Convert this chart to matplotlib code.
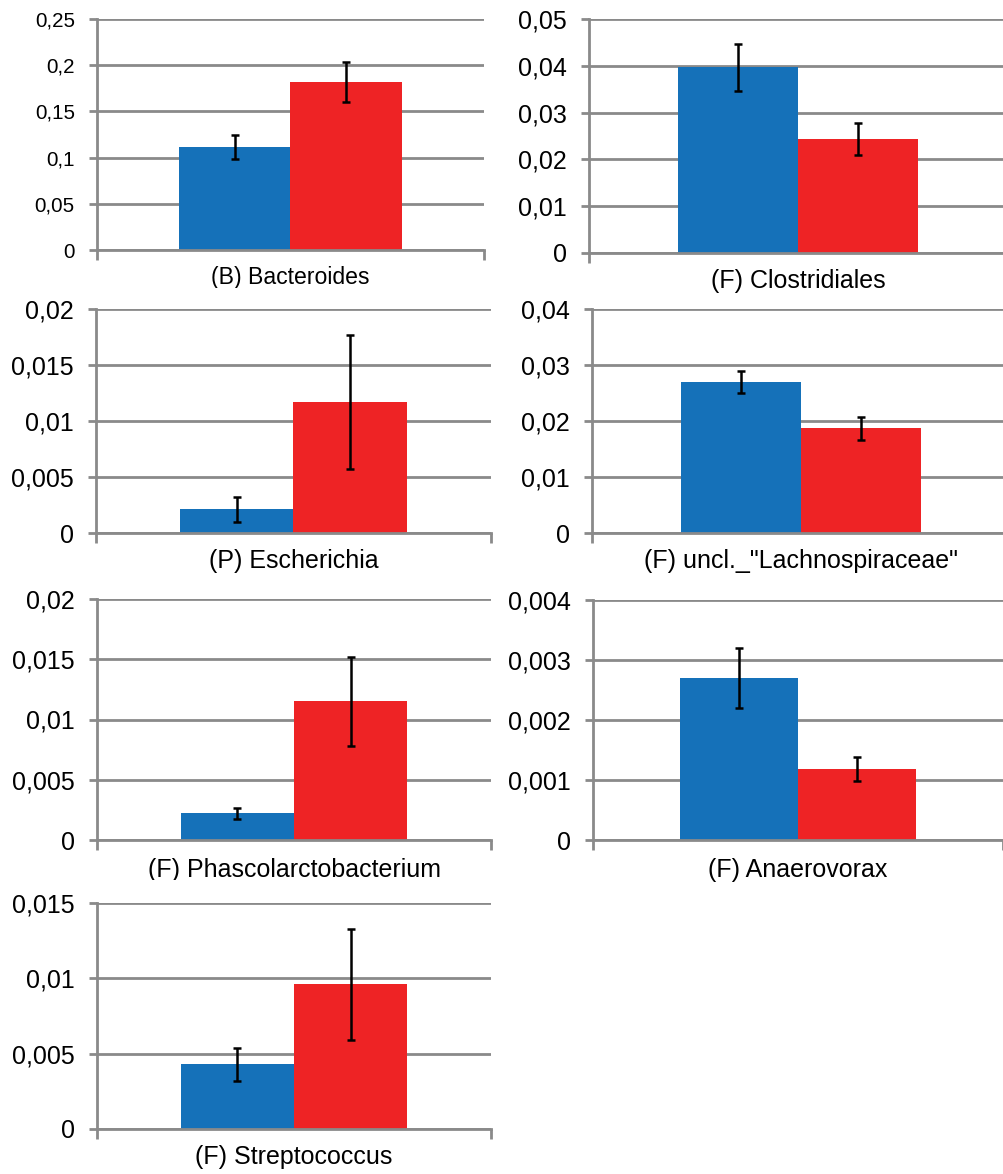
import matplotlib
matplotlib.use("Agg")
import matplotlib.pyplot as plt
from matplotlib.ticker import FuncFormatter, MultipleLocator
from matplotlib.transforms import Bbox, TransformedBbox

plt.rcParams['font.family'] = ['Liberation Sans', 'DejaVu Sans']

# ---- data ----
taxa = ['(B) Bacteroides', '(F) Clostridiales', '(P) Escherichia',
        '(F) uncl._"Lachnospiraceae"', '(F) Phascolarctobacterium',
        '(F) Anaerovorax', '(F) Streptococcus']
blue_vals = [0.111, 0.0397, 0.0021, 0.0270, 0.0022, 0.0027, 0.0043]
blue_err = [0.013, 0.0050, 0.0011, 0.0020, 0.00045, 0.0005, 0.0011]
red_vals = [0.182, 0.0243, 0.0117, 0.0187, 0.0115, 0.00118, 0.0096]
red_err = [0.022, 0.0034, 0.0060, 0.0021, 0.0037, 0.0002, 0.0037]
y_max = [0.25, 0.05, 0.02, 0.04, 0.02, 0.004, 0.015]
y_step = [0.05, 0.01, 0.005, 0.01, 0.005, 0.001, 0.005]

# ---- layout (pixels: left, right, top, bottom, label top, clip y) ----
W, H = 1004, 1174
boxes = [
    (97, 484, 19, 250, 266, 288),
    (589, 1007, 19, 253, 269, None),
    (96, 491, 309, 533, 549, None),
    (592, 1010, 309, 533, 549, None),
    (97, 491, 599, 840, 858, 880),
    (593, 1003, 600, 840, 858, None),
    (97, 491, 903, 1129, 1145, None),
]
tick_fs = [14.8, 18, 18, 18, 18, 18, 18]
label_fs = [16.6, 18, 18, 18, 18, 18, 18]

BLUE = '#1571B9'
RED = '#EE2325'
GRID = '#8A8A8A'

fig = plt.figure(figsize=(W / 100, H / 100), dpi=100)

fmt = FuncFormatter(lambda v, p: f"{v:g}".replace('.', ','))
bw = 0.287

for i in range(len(taxa)):
    l, r, t, b, lt, clip = boxes[i]
    ax = fig.add_axes([l / W, 1 - b / H, (r - l) / W, (b - t) / H])
    ax.bar(-bw / 2, blue_vals[i], width=bw, color=BLUE, zorder=2)
    ax.bar(bw / 2, red_vals[i], width=bw, color=RED, zorder=2)
    ax.errorbar([-bw / 2, bw / 2], [blue_vals[i], red_vals[i]],
                yerr=[blue_err[i], red_err[i]], fmt='none', ecolor='black',
                elinewidth=1.8, capsize=2.6, capthick=1.8, zorder=3)
    ax.set_xlim(-0.5, 0.5)
    ax.set_ylim(0, y_max[i])
    ax.yaxis.set_major_locator(MultipleLocator(y_step[i]))
    ax.yaxis.set_major_formatter(fmt)
    ax.set_xticks([-0.5, 0.5])
    ax.set_xticklabels([])
    ax.grid(axis='y', color=GRID, linewidth=2.0, zorder=0)
    ax.set_axisbelow(True)
    for s in ['top', 'right']:
        ax.spines[s].set_visible(False)
    for s in ['left', 'bottom']:
        ax.spines[s].set_color(GRID)
        ax.spines[s].set_linewidth(2.0)
    ax.tick_params(axis='y', direction='out', length=6, width=2.0,
                   color=GRID, labelsize=tick_fs[i], pad=10, labelcolor='black')
    ax.tick_params(axis='x', direction='out', length=7, width=2.0, color=GRID)
    ax.set_facecolor('white')
    txt = fig.text(((l + r) / 2) / W, 1 - lt / H, taxa[i], ha='center', va='top',
                   fontsize=label_fs[i], color='black')
    if clip is not None:
        cb = TransformedBbox(Bbox([[0, 1 - clip / H], [1, 1]]), fig.transFigure)
        txt.set_clip_box(cb)
        txt.set_clip_on(True)

fig.savefig('out.png', dpi=100, facecolor='white')
